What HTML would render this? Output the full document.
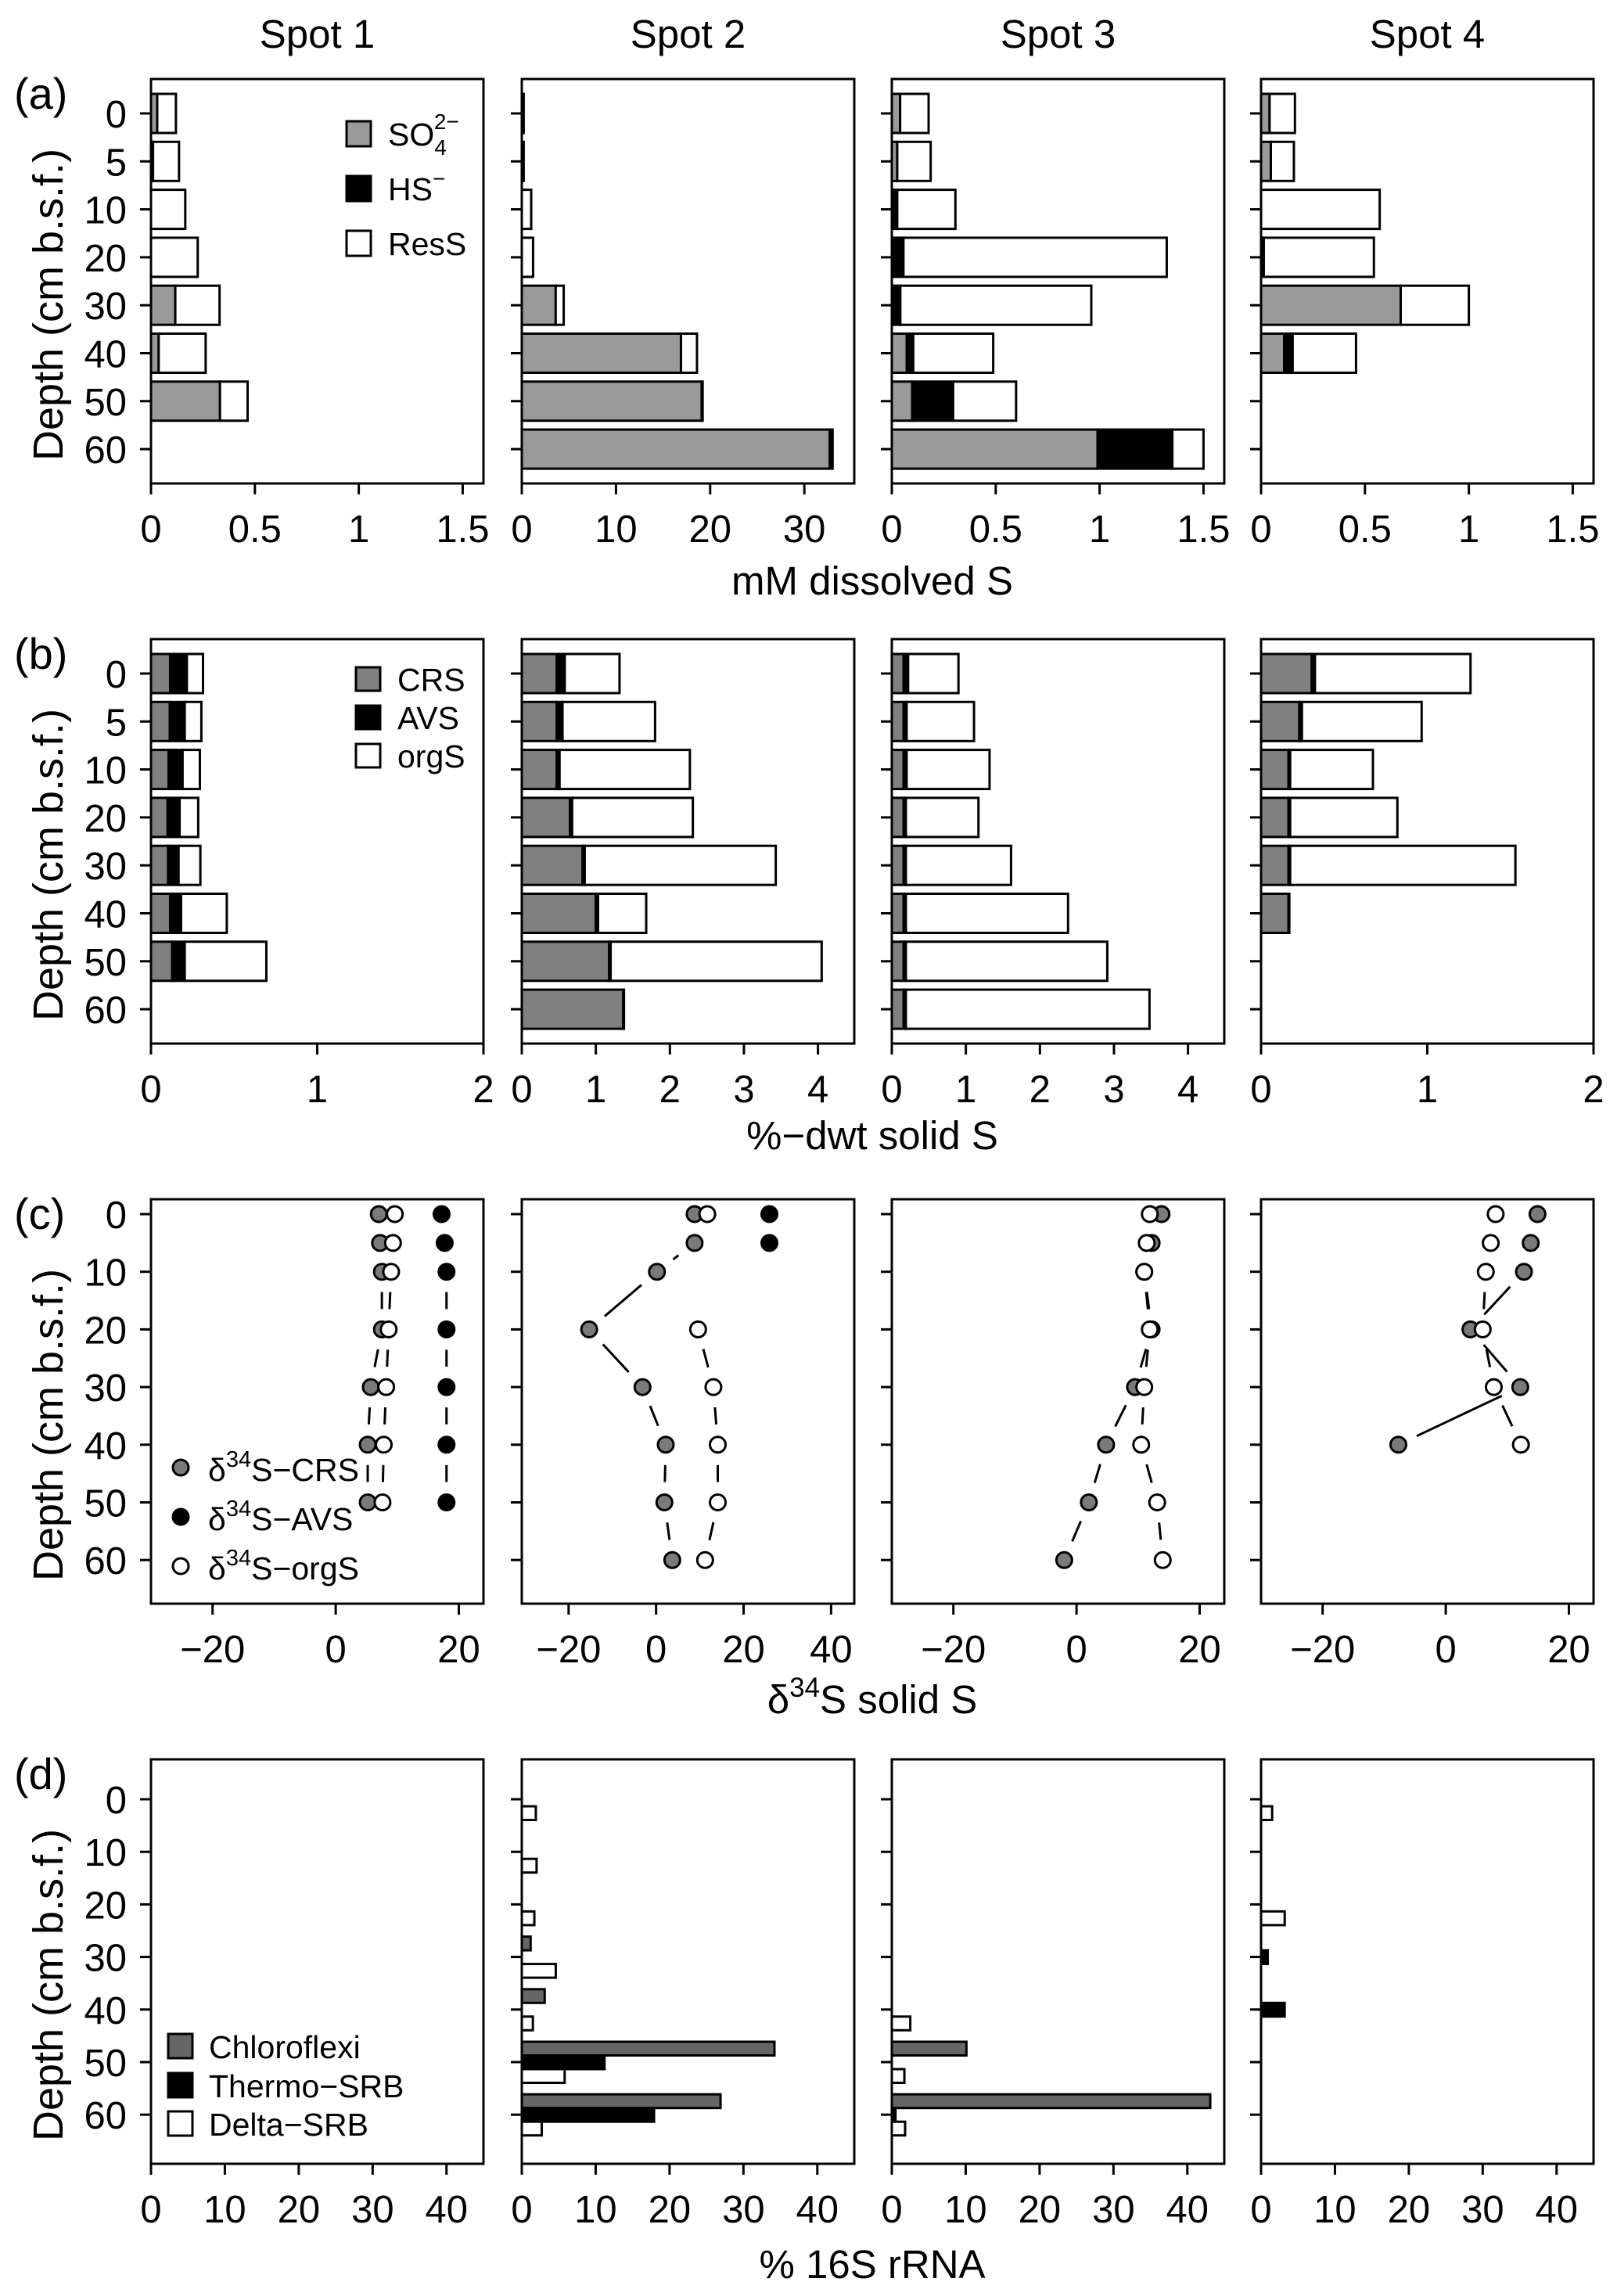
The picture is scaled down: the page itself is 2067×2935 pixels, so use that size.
<!DOCTYPE html>
<html><head><meta charset="utf-8"><style>
html,body{margin:0;padding:0;background:#fff;}
svg{display:block;font-family:"Liberation Sans",Arial,sans-serif;}
</style></head><body>
<svg id="fig" width="2067" height="2935" viewBox="0 0 2067 2935" xmlns="http://www.w3.org/2000/svg"></svg>
<script>
// ---------- data ----------
const spots = ['Spot 1','Spot 2','Spot 3','Spot 4'];
const abDepths = ['0','5','10','20','30','40','50','60'];
// panel (a) mM dissolved S
const aSO4 = [[0.03,0.01,0,0,0.117,0.037,0.332,null],[0.2,0.2,0,0,3.6,16.9,19.1,32.7],[0.04,0.026,0.005,0,0,0.072,0.098,0.99],[0.041,0.047,0,0,0.672,0.111,null,null]];
const aHS = [[0,0,0,0,0,0,0,null],[0,0,0,0,0,0,0,0.3],[0,0,0.021,0.056,0.041,0.031,0.197,0.36],[0,0,0,0.013,0,0.041,null,null]];
const aRes = [[0.09,0.125,0.165,0.225,0.213,0.226,0.133,null],[0,0,1.0,1.2,0.85,1.7,0.1,0],[0.137,0.161,0.28,1.267,0.919,0.385,0.303,0.15],[0.122,0.111,0.571,0.53,0.328,0.305,null,null]];
// panel (b) %-dwt solid S
const bCRS = [[0.116,0.113,0.106,0.1,0.103,0.116,0.128,null],[0.47,0.47,0.47,0.65,0.82,1.0,1.18,1.37],[0.16,0.16,0.16,0.16,0.16,0.16,0.16,0.16],[0.305,0.23,0.165,0.165,0.165,0.165,null,null]];
const bAVS = [[0.1,0.09,0.084,0.072,0.063,0.065,0.075,null],[0.11,0.08,0.04,0.03,0.03,0.03,0.02,0.01],[0.06,0.04,0.04,0.03,0.03,0.03,0.03,0.03],[0.019,0.016,0.01,0.01,0.01,0.005,null,null]];
const bOrg = [[0.097,0.1,0.104,0.112,0.131,0.275,0.491,null],[0.74,1.25,1.76,1.63,2.58,0.65,2.85,0],[0.68,0.91,1.12,0.98,1.42,2.19,2.72,3.29],[0.936,0.72,0.498,0.645,1.355,0,null,null]];
// panel (c) delta34S
const cDepths = [0,5,10,20,30,40,50,60];
const cCRS = [[7,7.2,7.5,7.5,5.7,5.2,5.2,null],[8.8,8.8,0.2,-15.3,-3.1,2.2,1.9,3.7],[13.8,12.2,11,12.2,9.5,4.8,2.0,-2.0],[14.9,13.8,12.7,4.0,12.1,-7.7,null,null]];
const cAVS = [[17.2,17.7,18,18,18,18,18,null],[25.9,25.9,null,null,null,null,null,null],[null,null,null,null,null,null,null,null],[null,null,null,null,null,null,null,null]];
const cOrg = [[9.6,9.3,9.0,8.6,8.2,7.8,7.6,null],[11.7,null,null,9.6,13.1,14.1,14.1,11.2],[11.9,11.4,11.0,11.9,11.0,10.5,13.1,14.0],[8.1,7.3,6.5,6.0,7.8,12.2,null,null]];
// panel (d) % 16S rRNA
const dDepths = [0,10,20,30,40,50,60];
const dChloro = [[0,0,0,0,0,0,0],[0,0,0,1.2,3.1,34.2,26.9],[0,0,0,0,0,10.1,43.1],[0,0,0,0,0,0,0]];
const dThermo = [[0,0,0,0,0,0,0],[0,0,0,0,0,11.2,17.9],[0,0,0,0,0,0,0.5],[0,0,0,0.9,3.2,0,0]];
const dDelta = [[0,0,0,0,0,0,0],[1.9,2.0,1.7,4.6,1.5,5.8,2.7],[0,0,0,0,2.5,1.7,1.8],[1.5,0,3.2,0,0,0,0]];
// axis tick labels
const aTicks = [[0,0.5,1,1.5],[0,10,20,30],[0,0.5,1,1.5],[0,0.5,1,1.5]];
const bTicks = [[0,1,2],[0,1,2,3,4],[0,1,2,3,4],[0,1,2]];
const cTicks = [[-20,0,20],[-20,0,20,40],[-20,0,20],[-20,0,20]];
const dTicks = [[0,10,20,30,40],[0,10,20,30,40],[0,10,20,30,40],[0,10,20,30,40]];
const dYTicks = [0,10,20,30,40,50,60];

// ---------- layout ----------
const NS='http://www.w3.org/2000/svg';
const svg=document.getElementById('fig');
const LEFTS=[193,667,1140,1612], W=425, H=517;
const TOPS=[101,817,1533,2249];
const TICK_FS=49, TITLE_FS=51, AXT_FS=51, LEG_FS=41;
const aDom=[[0,1.6],[0,35.3],[0,1.6],[0,1.6]];
const bDom=[[0,2],[0,4.49],[0,4.49],[0,2]];
const cDom=[[-30,24],[-30.7,45.3],[-30,24],[-30,24]];
const dDom=[[0,45],[0,45],[0,45],[0,45]];
function el(tag,attrs,parent){const e=document.createElementNS(NS,tag);for(const k in attrs)e.setAttribute(k,attrs[k]);(parent||svg).appendChild(e);return e;}
function txt(s,x,y,size,anchor,parent){const t=el('text',{x:x,y:y,'font-size':size,'text-anchor':anchor||'middle',fill:'#000'},parent);t.textContent=s;return t;}
function xs(dom,i){return v=>LEFTS[i]+(v-dom[0])/(dom[1]-dom[0])*W;}
function fmt(v){return v<0?'\u2212'+(-v):String(v);}

function frame(row,i,ticks,dom,yPos,yLabels,name){
  const g=el('g',{});
  
  
  const x=xs(dom,i), top=TOPS[row], bot=top+H;
  const box=el('rect',{x:LEFTS[i],y:top,width:W,height:H,fill:'none',stroke:'#000','stroke-width':3},g);
  
  const xa=el('g',{},g);
  ticks.forEach(t=>{const px=x(t);el('line',{x1:px,x2:px,y1:bot,y2:bot+14,stroke:'#000','stroke-width':3},xa);txt(fmt(t),px,bot+75,TICK_FS,'middle',xa);});
  const ya=el('g',{},g);
  yPos.forEach((py,k)=>{el('line',{x1:LEFTS[i]-14,x2:LEFTS[i],y1:py,y2:py,stroke:'#000','stroke-width':3},ya);
    if(i===0)txt(yLabels[k],162,py+18,TICK_FS,'end',ya);});
  return {g,x};
}
function rect(g,x0,x1,y,h,fill,name){
  if(x1-x0<=0.01)return;
  const r=el('rect',{x:x0,y:y,width:x1-x0,height:h,fill:fill,stroke:'#000','stroke-width':3},g);
  
}

// titles
spots.forEach((s,i)=>{const t=txt(s,LEFTS[i]+W/2,61,TITLE_FS);});
['(a)','(b)','(c)','(d)'].forEach((s,r)=>{const t=txt(s,18,TOPS[r]+38,56,'start');});
TOPS.forEach((top,r)=>{const cy=top+H/2+30;const t=el('text',{x:0,y:0,'font-size':54,'text-anchor':'middle',transform:`translate(80,${cy}) rotate(-90)`});t.textContent='Depth (cm b.s.f.)';});

// ---------- panel a ----------
const catY=(row,k)=>TOPS[row]+44+k*61.3;
const abY=abDepths.map((d,k)=>k);
for(let i=0;i<4;i++){
  const {g,x}=frame(0,i,aTicks[i],aDom[i],abY.map(k=>catY(0,k)),abDepths,'panel-a');
  abDepths.forEach((d,k)=>{
    if(aSO4[i][k]===null)return;
    const y=catY(0,k)-25;const s=aSO4[i][k],h=aHS[i][k],r=aRes[i][k];
    rect(g,x(0),x(s),y,50,'#9a9a9a','bar-so4');
    rect(g,x(s),x(s+h),y,50,'#000','bar-hs');
    rect(g,x(s+h),x(s+h+r),y,50,'#fff','bar-ress');
  });
}
// legend a
(function(){const g=el('g',{});
  el('rect',{x:443,y:155,width:31,height:32,fill:'#9a9a9a',stroke:'#000','stroke-width':3},g);
  el('rect',{x:443,y:225,width:31,height:32,fill:'#000',stroke:'#000','stroke-width':3},g);
  el('rect',{x:443,y:295,width:31,height:32,fill:'#fff',stroke:'#000','stroke-width':3},g);
  const t1=el('text',{x:496,y:186,'font-size':LEG_FS},g);t1.innerHTML='SO<tspan font-size="28" dy="12">4</tspan><tspan font-size="28" dx="-16" dy="-33">2\u2212</tspan>';
  const t2=el('text',{x:496,y:256,'font-size':LEG_FS},g);t2.innerHTML='HS<tspan font-size="28" dy="-18">\u2212</tspan>';
  txt('ResS',496,326,LEG_FS,'start',g);
})();
{const t=txt('mM dissolved S',1115,760,AXT_FS);}

// ---------- panel b ----------
for(let i=0;i<4;i++){
  const {g,x}=frame(1,i,bTicks[i],bDom[i],abY.map(k=>catY(1,k)),abDepths,'panel-b');
  abDepths.forEach((d,k)=>{
    if(bCRS[i][k]===null)return;
    const y=catY(1,k)-25;const c=bCRS[i][k],a=bAVS[i][k],o=bOrg[i][k];
    rect(g,x(0),x(c),y,50,'#808080','bar-crs');
    rect(g,x(c),x(c+a),y,50,'#000','bar-avs');
    rect(g,x(c+a),x(c+a+o),y,50,'#fff','bar-orgs');
  });
}
(function(){const g=el('g',{});
  [['CRS','#808080',853],['AVS','#000',902],['orgS','#fff',951]].forEach(([s,f,y])=>{
    el('rect',{x:455,y:y,width:31,height:30,fill:f,stroke:'#000','stroke-width':3},g);txt(s,508,y+30,LEG_FS,'start',g);});
})();
{const t=txt('%\u2212dwt solid S',1115,1469,AXT_FS);}

// ---------- panel c ----------
const cY=d=>TOPS[2]+19+d*7.37;
function series(g,x,vals,fill,name){
  const pts=cDepths.map((d,k)=>vals[k]===null?null:[x(vals[k]),cY(d)]);
  for(let k=0;k<pts.length-1;k++){const p=pts[k],q=pts[k+1];if(!p||!q)continue;
    const dx=q[0]-p[0],dy=q[1]-p[1],L=Math.hypot(dx,dy),gap=26;if(L<=2*gap)continue;
    const ux=dx/L,uy=dy/L;
    const ln=el('line',{x1:p[0]+ux*gap,y1:p[1]+uy*gap,x2:q[0]-ux*gap,y2:q[1]-uy*gap,stroke:'#000','stroke-width':3},g);
    }
  pts.forEach(p=>{if(!p)return;const c=el('circle',{cx:p[0],cy:p[1],r:10,fill:fill,stroke:'#000','stroke-width':3},g);
    });
}
for(let i=0;i<4;i++){
  const {g,x}=frame(2,i,cTicks[i],cDom[i],cDepths.filter(d=>d%10===0).map(cY),['0','10','20','30','40','50','60'],'panel-c');
  series(g,x,cCRS[i],'#7a7a7a','crs');
  series(g,x,cAVS[i],'#000','avs');
  series(g,x,cOrg[i],'#fff','orgs');
}
(function(){const g=el('g',{});
  [['CRS','#7a7a7a',1876],['AVS','#000',1939],['orgS','#fff',2002]].forEach(([s,f,y])=>{
    el('circle',{cx:231,cy:y,r:10,fill:f,stroke:'#000','stroke-width':3},g);
    const t=el('text',{x:266,y:y+17,'font-size':LEG_FS},g);t.innerHTML='\u03b4<tspan font-size="29" dy="-18">34</tspan><tspan dy="18">S\u2212'+s+'</tspan>';});
})();
{const t=el('text',{x:1115,y:2190,'font-size':AXT_FS,'text-anchor':'middle'});t.innerHTML='\u03b4<tspan font-size="35" dy="-21">34</tspan><tspan dy="21">S solid S</tspan>';}

// ---------- panel d ----------
const dY=d=>TOPS[3]+51+d*6.72;
for(let i=0;i<4;i++){
  const {g,x}=frame(3,i,dTicks[i],dDom[i],dYTicks.map(dY),dYTicks.map(String),'panel-d');
  dDepths.forEach((d,k)=>{const y=dY(d)-26;
    rect(g,x(0),x(dChloro[i][k]),y,17.5,'#666','bar-chloroflexi');
    rect(g,x(0),x(dThermo[i][k]),y+17.5,17.5,'#000','bar-thermo-srb');
    rect(g,x(0),x(dDelta[i][k]),y+35,17.5,'#fff','bar-delta-srb');});
}
(function(){const g=el('g',{});
  [['Chloroflexi','#666',2600],['Thermo\u2212SRB','#000',2650],['Delta\u2212SRB','#fff',2699]].forEach(([s,f,y])=>{
    el('rect',{x:215,y:y,width:31,height:31,fill:f,stroke:'#000','stroke-width':3},g);txt(s,267,y+31,LEG_FS,'start',g);});
})();
{const t=txt('% 16S rRNA',1115,2912,AXT_FS);}
</script>
</body></html>
